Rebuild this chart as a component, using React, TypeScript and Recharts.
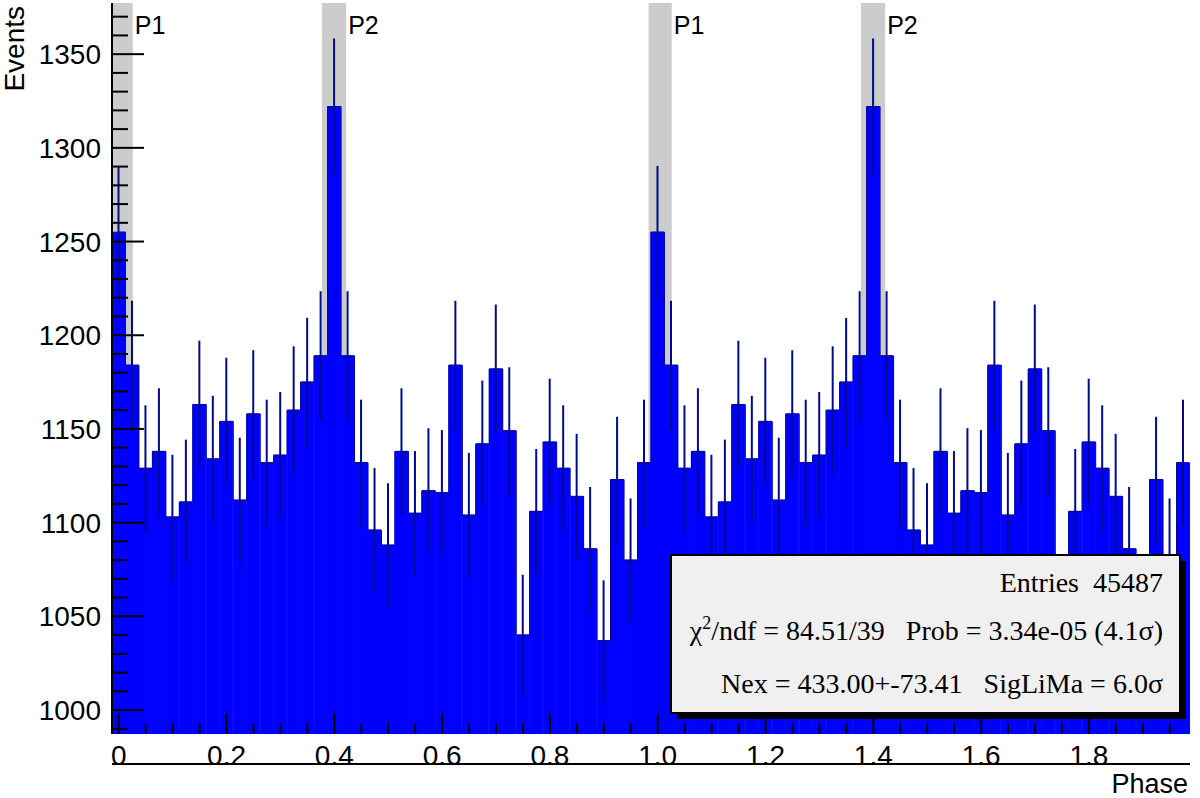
import React from 'react';
import { ComposedChart, Bar, Line, XAxis, YAxis, ReferenceArea, ErrorBar } from 'recharts';

// one folded cycle, 40 bins of 0.025 in phase (bin centres)
const phaseCenters = [
  0, 0.025, 0.05, 0.075, 0.1, 0.125, 0.15, 0.175, 0.2, 0.225,
  0.25, 0.275, 0.3, 0.325, 0.35, 0.375, 0.4, 0.425, 0.45, 0.475,
  0.5, 0.525, 0.55, 0.575, 0.6, 0.625, 0.65, 0.675, 0.7, 0.725,
  0.75, 0.775, 0.8, 0.825, 0.85, 0.875, 0.9, 0.925, 0.95, 0.975,
];

const events = [
  1255, 1184, 1129, 1138, 1103, 1111, 1163, 1134, 1154, 1112,
  1158, 1132, 1136, 1160, 1175, 1189, 1322, 1189, 1132, 1096,
  1088, 1138, 1105, 1117, 1116, 1184, 1104, 1142, 1182, 1149,
  1040, 1106, 1143, 1129, 1114, 1086, 1037, 1123, 1080, 1132,
];

const eventErrors = [
  35.4, 34.4, 33.6, 33.7, 33.2, 33.3, 34.1, 33.7, 34.0, 33.3,
  34.0, 33.6, 33.7, 34.1, 34.3, 34.5, 36.4, 34.5, 33.6, 33.1,
  33.0, 33.7, 33.2, 33.4, 33.4, 34.4, 33.2, 33.8, 34.4, 33.9,
  32.2, 33.3, 33.8, 33.6, 33.4, 33.0, 32.2, 33.5, 32.9, 33.6,
];

// the histogram shows the folded cycle twice
const cycles = [0, 1];

const signalRegions = [
  { name: 'P1', from: -0.017, to: 0.026 },
  { name: 'P2', from: 0.377, to: 0.422 },
  { name: 'P1', from: 0.983, to: 1.026 },
  { name: 'P2', from: 1.377, to: 1.422 },
];

const xTicks = [
  0, 0.05, 0.1, 0.15, 0.2, 0.25, 0.3, 0.35, 0.4, 0.45,
  0.5, 0.55, 0.6, 0.65, 0.7, 0.75, 0.8, 0.85, 0.9, 0.95,
  1, 1.05, 1.1, 1.15, 1.2, 1.25, 1.3, 1.35, 1.4, 1.45,
  1.5, 1.55, 1.6, 1.65, 1.7, 1.75, 1.8, 1.85, 1.9, 1.95,
];
const xMajorTicks = [0, 0.2, 0.4, 0.6, 0.8, 1, 1.2, 1.4, 1.6, 1.8];
const xTickLabels = ['0', '0.2', '0.4', '0.6', '0.8', '1.0', '1.2', '1.4', '1.6', '1.8'];

const yTicks = [
  990, 1000, 1010, 1020, 1030, 1040, 1050, 1060, 1070, 1080, 1090, 1100,
  1110, 1120, 1130, 1140, 1150, 1160, 1170, 1180, 1190, 1200, 1210, 1220,
  1230, 1240, 1250, 1260, 1270, 1280, 1290, 1300, 1310, 1320, 1330, 1340,
  1350, 1360, 1370,
];
const yMajorTicks = [1000, 1050, 1100, 1150, 1200, 1250, 1300, 1350];
const yTickLabels = ['1000', '1050', '1100', '1150', '1200', '1250', '1300', '1350'];

const statLines = {
  entries: 'Entries  45487',
  chi: '/ndf = 84.51/39   Prob = 3.34e-05 (4.1σ)',
  nex: 'Nex = 433.00+-73.41   SigLiMa = 6.0σ',
};

const data = cycles.flatMap((c) =>
  phaseCenters.map((p, i) => ({
    phase: Number((p + c).toFixed(3)),
    events: events[i],
    err: eventErrors[i],
  }))
);

const sans = '"Liberation Sans", Arial, Helvetica, sans-serif';
const serif = '"Liberation Serif", "Times New Roman", serif';
const barBlue = '#0000ff';
const darkBlue = '#000a8c';

const X_DOMAIN: [number, number] = [-0.0125, 1.9875];
const Y_DOMAIN: [number, number] = [987.2, 1377.3];
const PLOT_BOTTOM = 734;

function XTick(props: any) {
  const { x, payload } = props;
  const idx = xMajorTicks.findIndex((t) => Math.abs(t - payload.value) < 1e-6);
  const major = idx >= 0;
  return (
    <g>
      <line
        x1={x}
        x2={x}
        y1={PLOT_BOTTOM}
        y2={PLOT_BOTTOM - (major ? 21 : 10.5)}
        stroke="#000"
        strokeWidth={2}
      />
      {major && (
        <text x={x} y={PLOT_BOTTOM + 31} textAnchor="middle" fontFamily={sans} fontSize={28} fill="#000">
          {xTickLabels[idx]}
        </text>
      )}
    </g>
  );
}

function YTick(props: any) {
  const { x, y, payload } = props;
  const idx = yMajorTicks.indexOf(payload.value);
  const major = idx >= 0;
  return (
    <g>
      <line x1={x} x2={x + (major ? 32 : 16)} y1={y} y2={y} stroke="#000" strokeWidth={2} />
      {major && (
        <text x={x - 11} y={y} dy="0.36em" textAnchor="end" fontFamily={sans} fontSize={28} fill="#000">
          {yTickLabels[idx]}
        </text>
      )}
    </g>
  );
}

export default function App() {
  return (
    <div style={{ position: 'absolute', left: 0, top: 0, width: 1200, height: 798, background: '#fff' }}>
      <ComposedChart
        width={1200}
        height={798}
        data={data}
        margin={{ top: 3, right: 10, bottom: 0, left: 0 }}
        barCategoryGap={0}
        barGap={0}
      >
        <XAxis xAxisId="bins" dataKey="phase" type="category" hide />
        <XAxis
          xAxisId="phase"
          dataKey="phase"
          type="number"
          domain={X_DOMAIN}
          allowDataOverflow
          ticks={xTicks}
          interval={0}
          height={64}
          tickSize={0}
          tickMargin={0}
          tickLine={false}
          tick={<XTick />}
          axisLine={{ stroke: '#000', strokeWidth: 2 }}
          label={{
            content: (p: any) => (
              <text
                x={p.viewBox.x + p.viewBox.width - 2}
                y={793}
                textAnchor="end"
                fontFamily={sans}
                fontSize={27}
                fill="#000"
              >
                Phase
              </text>
            ),
          }}
        />
        <XAxis
          xAxisId="top"
          orientation="top"
          type="number"
          domain={X_DOMAIN}
          allowDataOverflow
          height={0}
          tick={false}
          tickLine={false}
          axisLine={{ stroke: '#000', strokeWidth: 2 }}
        />
        <YAxis
          type="number"
          domain={Y_DOMAIN}
          allowDataOverflow
          ticks={yTicks}
          interval={0}
          width={112}
          tickSize={0}
          tickMargin={0}
          tickLine={false}
          tick={<YTick />}
          axisLine={{ stroke: '#000', strokeWidth: 2 }}
          label={{
            content: () => (
              <text
                x={24}
                y={6}
                transform="rotate(-90 24 6)"
                textAnchor="end"
                fontFamily={sans}
                fontSize={28}
                fill="#000"
              >
                Events
              </text>
            ),
          }}
        />
        <YAxis
          yAxisId="right"
          orientation="right"
          type="number"
          domain={Y_DOMAIN}
          allowDataOverflow
          width={0}
          tick={false}
          tickLine={false}
          axisLine={{ stroke: '#000', strokeWidth: 2 }}
        />
        {signalRegions.map((r, i) => (
          <ReferenceArea
            key={i}
            xAxisId="phase"
            x1={r.from}
            x2={r.to}
            fill="#cccccc"
            fillOpacity={1}
            stroke="none"
            ifOverflow="hidden"
            zIndex={-10}
            label={{
              content: (p: any) => (
                <text
                  x={p.viewBox.x + p.viewBox.width + 2}
                  y={34}
                  fontFamily={sans}
                  fontSize={25}
                  fill="#000"
                >
                  {r.name}
                </text>
              ),
            }}
          />
        ))}
        <Bar
          xAxisId="bins"
          dataKey="events"
          fill={barBlue}
          stroke={barBlue}
          strokeWidth={1}
          isAnimationActive={false}
        >
          <ErrorBar dataKey="err" width={0} stroke={darkBlue} strokeWidth={2} direction="y" />
        </Bar>
        <Line
          xAxisId="bins"
          type="step"
          dataKey="events"
          stroke={darkBlue}
          strokeWidth={1}
          dot={false}
          activeDot={false}
          isAnimationActive={false}
        />
      </ComposedChart>
      <svg
        width={1200}
        height={798}
        style={{ position: 'absolute', left: 0, top: 0, pointerEvents: 'none' }}
      >
        <rect x={677} y={561} width={509} height={158} fill="#000" />
        <rect x={671} y={555} width={509} height={158} fill="#f0f0f0" stroke="#000" strokeWidth={2} />
        <g fontFamily={serif} fontSize={28} fill="#000" textAnchor="end">
          <text x={1163} y={592} xmlSpace="preserve" style={{ whiteSpace: 'pre' }}>
            {statLines.entries}
          </text>
          <text x={1163} y={640} xmlSpace="preserve" style={{ whiteSpace: 'pre' }}>
            <tspan>χ</tspan>
            <tspan dy={-11} fontSize={18}>2</tspan>
            <tspan dy={11}>{statLines.chi}</tspan>
          </text>
          <text x={1163} y={693} xmlSpace="preserve" style={{ whiteSpace: 'pre' }}>
            {statLines.nex}
          </text>
        </g>
      </svg>
    </div>
  );
}
